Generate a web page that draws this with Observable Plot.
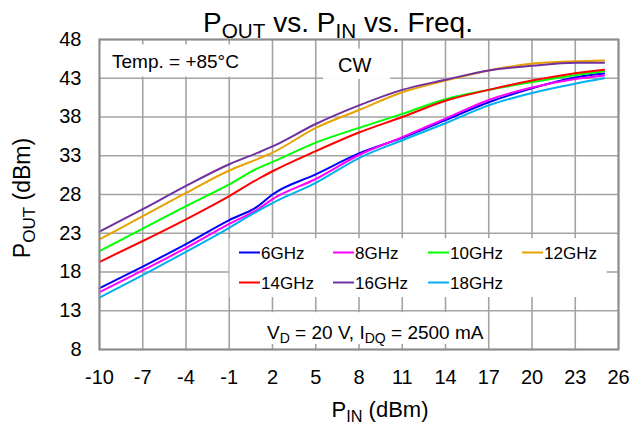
<!DOCTYPE html>
<html><head><meta charset="utf-8">
<script src="https://cdn.jsdelivr.net/npm/d3@7"></script>
<script src="https://cdn.jsdelivr.net/npm/@observablehq/plot@0.6"></script>
<style>
html,body{margin:0;padding:0;background:#fff;}
#chart svg{display:block;}
</style>
</head><body><div id="chart"></div>
<script>
// P_IN (dBm) sample points
const pin = [-10, -7, -4, -1, 1, 2, 5, 8, 11, 14, 17, 20, 23, 25];
// P_OUT (dBm) per frequency
const pout6  = [15.9, 18.7, 21.6, 24.7, 26.5, 28.0, 30.6, 33.3, 35.3, 37.6, 39.9, 41.7, 43.1, 43.6];
const pout8  = [15.4, 18.2, 21.1, 24.2, 26.1, 27.4, 30.0, 33.1, 35.4, 37.8, 40.2, 41.8, 42.9, 43.35];
const pout10 = [20.7, 23.6, 26.5, 29.3, 31.4, 32.2, 34.7, 36.6, 38.4, 40.3, 41.5, 42.5, 43.4, 43.9];
const pout12 = [22.2, 25.2, 28.2, 31.1, 32.6, 33.4, 36.6, 38.9, 41.2, 42.7, 44.0, 44.9, 45.2, 45.3];
const pout14 = [19.3, 22.0, 24.8, 27.8, 30.0, 31.0, 33.6, 36.0, 38.0, 40.1, 41.5, 42.7, 43.65, 44.1];
const pout16 = [23.2, 26.1, 29.1, 31.9, 33.4, 34.2, 37.1, 39.5, 41.5, 42.8, 44.0, 44.6, 45.0, 45.0];
const pout18 = [14.7, 17.6, 20.6, 23.7, 25.9, 26.9, 29.5, 32.7, 35.0, 37.2, 39.5, 41.1, 42.3, 43.0];
const series = ["6GHz", "8GHz", "10GHz", "12GHz", "14GHz", "16GHz", "18GHz"];
const seriesValues = [pout6, pout8, pout10, pout12, pout14, pout16, pout18];
const colors = ["#0000FF", "#FF00FF", "#00FF00", "#E8A202", "#FF0000", "#7030A0", "#00B0F0"];
const xTicks = [-10, -7, -4, -1, 2, 5, 8, 11, 14, 17, 20, 23, 26];
const yTicks = [8, 13, 18, 23, 28, 33, 38, 43, 48];

// white annotation boxes (data units)
const boxes = [
  {x1: -10, x2: 0.8, y1: 43.15, y2: 47.3},
  {x1: 5.55, x2: 10.2, y1: 42.85, y2: 46.75},
  {x1: -0.95, x2: 25.2, y1: 14.7, y2: 22.3},
  {x1: 1.2, x2: 16.85, y1: 8.65, y2: 12.75}
];

const rows = [];
seriesValues.forEach((vals, i) => vals.forEach((v, j) => rows.push({pin: pin[j], pout: v, f: series[i]})));

const FONT = "'Liberation Sans', Arial, sans-serif";
const chart = Plot.plot({
  width: 633, height: 426,
  marginLeft: 99, marginRight: 15, marginTop: 39, marginBottom: 77,
  style: {fontFamily: FONT, fontSize: "20px", color: "#000", background: "#fff"},
  x: {domain: [-10, 26]},
  y: {domain: [8, 48]},
  color: {domain: series, range: colors},
  marks: [
    Plot.ruleX(xTicks, {stroke: "#a3a3a3", strokeWidth: 1.6}),
    Plot.ruleY(yTicks, {stroke: "#a3a3a3", strokeWidth: 1.6}),
    Plot.rect(boxes, {x1: "x1", x2: "x2", y1: "y1", y2: "y2", fill: "white"}),
    Plot.line(rows, {x: "pin", y: "pout", z: "f", stroke: "f", strokeWidth: 2, curve: "monotone-x"}),
    Plot.frame({stroke: "#8c8c8c", strokeWidth: 2}),
    Plot.axisX(xTicks, {tickSize: 0, tickPadding: 20, fontSize: 20, label: null, tickFormat: d => String(d)}),
    Plot.axisY(yTicks, {tickSize: 0, tickPadding: 18, fontSize: 20, label: null, tickFormat: d => String(d)})
  ]
});
document.getElementById("chart").appendChild(chart);

const svg = d3.select(chart);
function rich(x, y, size, anchor, parts, transform) {
  const t = svg.append("text")
    .attr("x", x).attr("y", y)
    .attr("font-size", size)
    .attr("font-family", FONT)
    .attr("text-anchor", anchor)
    .attr("fill", "#000");
  if (transform) t.attr("transform", transform).attr("x", 0).attr("y", 0);
  let shifted = false;
  parts.forEach(([s, sub]) => {
    const sp = t.append("tspan").text(s);
    if (sub) {
      sp.attr("font-size", size * 0.74).attr("dy", size * 0.22);
      shifted = true;
    } else if (shifted) {
      sp.attr("dy", -size * 0.22);
      shifted = false;
    }
  });
  return t;
}
rich(338, 32, 28, "middle", [["P"], ["OUT", 1], [" vs. P"], ["IN", 1], [" vs. Freq."]]);
rich(0, 0, 23, "middle", [["P"], ["OUT", 1], [" (dBm)"]], "translate(30,198) rotate(-90)");
rich(380, 417, 22, "middle", [["P"], ["IN", 1], [" (dBm)"]]);
rich(112, 68, 19, "start", [["Temp. = +85°C"]]);
rich(338, 72, 20, "start", [["CW"]]);
rich(267, 339, 19, "start", [["V"], ["D", 1], [" = 20 V, I"], ["DQ", 1], [" = 2500 mA"]]);

// legend
const colScale = chart.scale("color");
const legX = [239, 333, 428, 522];
const legY = [252.5, 282.5];
series.forEach((s, i) => {
  const cx = legX[i % 4], cy = legY[Math.floor(i / 4)];
  svg.append("line").attr("x1", cx).attr("x2", cx + 21).attr("y1", cy).attr("y2", cy)
    .attr("stroke", colScale.apply(s)).attr("stroke-width", 2);
  svg.append("text").attr("x", cx + 22).attr("y", cy + 6)
    .attr("text-anchor", "start")
    .attr("font-size", 17).attr("font-family", FONT).attr("fill", "#000").text(s);
});
</script>
</body></html>
